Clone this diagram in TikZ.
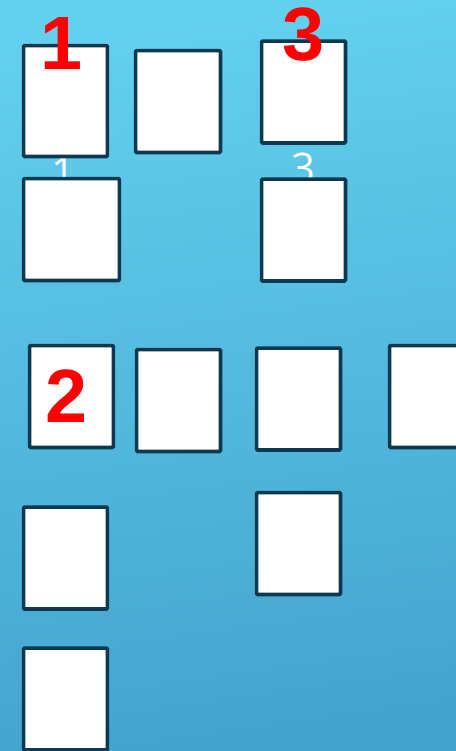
\documentclass[tikz,border=0pt]{standalone}
\usepackage{fontspec}
\newfontfamily\numfont{Liberation Sans}
\newfontfamily\thinfont{Open Sans}
\definecolor{skytop}{RGB}{99,208,238}
\definecolor{skybot}{RGB}{68,164,206}
\definecolor{navy}{RGB}{12,56,80}
\definecolor{numred}{RGB}{255,0,0}
\tikzset{
  card/.style={rectangle,draw=navy,fill=white,line width=2pt,rounded corners=0.6pt,
    minimum width=1.68cm,minimum height=2.04cm,inner sep=0pt},
  num/.style={text=numred,inner sep=0pt,font=\numfont\bfseries\fontsize{43}{43}\selectfont},
  lbl/.style={text=white,inner sep=0pt,font=\thinfont\fontsize{24}{24}\selectfont},
}
\begin{document}
\begin{tikzpicture}[x=0.02cm,y=-0.02cm]
\useasboundingbox (0,0) rectangle (456,751);
\shade[top color=skytop,bottom color=skybot,shading angle=8] (0,0) rectangle (456,751);
% white labels, partly hidden by the boxes
\node[lbl] (w1) at (64,172){1};
\node[lbl] (w3) at (304,168){3};
% boxes
\node[card,minimum height=2.22cm] (A) at (65.5,101){};
\node[card,minimum width=1.70cm] (B) at (178,101.5){};
\node[card,minimum width=1.92cm] (C) at (71.5,229.5){};
\node[card] (D) at (303.5,92){};
\node[card] (E) at (303.5,230){};
\node[card] (F) at (71.5,396.5){};
\node[card] (G) at (178.5,400.5){};
\node[card] (H) at (298.5,399){};
\node[card] (I) at (431.5,396.5){};
\node[card] (J) at (298.5,543.5){};
\node[card] (K) at (65.5,558){};
\node[card] (L) at (65.5,699){};
% red numbers
\node[num] (n1) at (62,44){1};
\node[num] (n2) at (67,396.5){2};
\node[num] (n3) at (303.5,35){3};
\end{tikzpicture}
\end{document}
